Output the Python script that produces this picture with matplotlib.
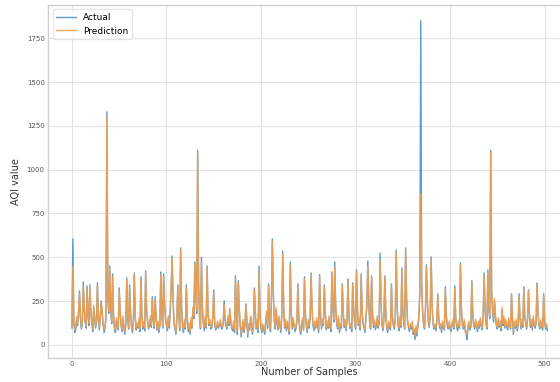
import numpy as np
import matplotlib.pyplot as plt

# AQI readings, actual vs model prediction
actual = [
    95, 605, 130, 70, 85, 140, 110, 180, 308, 150, 90, 120, 359, 200, 130, 95, 336, 160, 110, 342,
    180, 120, 75, 210, 150, 95, 130, 353, 140, 85, 160, 250, 180, 110, 70, 95, 150, 1330, 260, 180,
    450, 210, 120, 405, 160, 90, 70, 140, 105, 85, 325, 180, 110, 75, 150, 95, 60, 120, 382, 140,
    90, 342, 180, 100, 70, 130, 410, 150, 85, 110, 95, 140, 75, 388, 160, 90, 120, 80, 422, 200,
    130, 90, 110, 150, 100, 274, 140, 95, 274, 160, 85, 120, 70, 105, 416, 180, 95, 405, 230, 140,
    110, 80, 150, 95, 200, 340, 507, 250, 120, 90, 60, 140, 342, 170, 80, 553, 210, 95, 70, 130,
    90, 342, 150, 75, 110, 60, 140, 95, 200, 150, 473, 300, 180, 1110, 350, 160, 90, 500, 210, 120,
    80, 150, 95, 450, 180, 110, 130, 90, 100, 150, 314, 120, 85, 100, 120, 95, 110, 130, 100, 90,
    120, 251, 140, 105, 90, 150, 110, 200, 130, 95, 80, 120, 70, 393, 150, 60, 365, 200, 110, 45,
    90, 130, 70, 100, 234, 140, 45, 110, 85, 150, 120, 60, 100, 325, 180, 90, 130, 70, 450, 160,
    95, 70, 110, 85, 60, 130, 180, 95, 348, 150, 75, 240, 604, 300, 140, 90, 200, 120, 85, 150,
    110, 70, 160, 535, 210, 95, 130, 80, 120, 100, 60, 473, 180, 90, 140, 110, 75, 95, 130, 348,
    150, 90, 60, 110, 140, 85, 388, 170, 100, 70, 130, 95, 150, 410, 200, 110, 80, 120, 95, 140,
    105, 70, 400, 160, 90, 130, 110, 342, 180, 85, 120, 95, 150, 100, 75, 416, 200, 130, 473, 220,
    120, 90, 150, 70, 110, 95, 348, 180, 100, 130, 80, 140, 376, 160, 95, 110, 75, 353, 200, 130,
    90, 428, 210, 110, 140, 85, 405, 180, 120, 95, 70, 150, 220, 479, 260, 110, 90, 393, 170, 100,
    130, 85, 110, 150, 95, 120, 524, 230, 110, 80, 140, 393, 180, 95, 70, 120, 100, 85, 348, 160,
    110, 90, 130, 541, 220, 110, 80, 150, 100, 439, 190, 120, 90, 553, 260, 130, 100, 75, 110, 90,
    120, 60, 80, 30, 95, 50, 110, 150, 300, 1850, 350, 180, 110, 90, 200, 456, 250, 130, 100, 160,
    502, 220, 120, 90, 110, 80, 130, 291, 150, 95, 110, 70, 120, 100, 85, 331, 160, 110, 90, 120,
    95, 75, 110, 130, 90, 336, 150, 100, 80, 120, 95, 467, 200, 110, 90, 130, 80, 60, 30, 100,
    120, 85, 100, 365, 170, 110, 90, 130, 100, 75, 120, 95, 140, 110, 85, 150, 410, 200, 120, 90,
    428, 200, 150, 1110, 300, 180, 130, 250, 160, 110, 90, 140, 100, 120, 80, 200, 110, 150, 95, 130,
    100, 85, 140, 110, 90, 291, 150, 60, 120, 95, 130, 80, 110, 291, 150, 90, 130, 100, 331, 160,
    120, 90, 140, 314, 170, 100, 130, 85, 150, 110, 95, 120, 353, 180, 110, 90, 130, 100, 85, 291,
    130, 90, 110, 80,
]

prediction = [
    110, 450, 150, 85, 100, 160, 120, 200, 290, 170, 100, 135, 340, 220, 145, 105, 320, 175, 125, 330,
    195, 130, 90, 225, 165, 105, 145, 340, 150, 95, 175, 240, 195, 120, 85, 110, 165, 1300, 280, 190,
    440, 225, 130, 390, 175, 100, 85, 155, 115, 95, 310, 195, 120, 90, 165, 105, 75, 135, 370, 155,
    100, 330, 195, 110, 85, 145, 400, 165, 95, 125, 105, 155, 90, 375, 175, 100, 135, 95, 410, 215,
    145, 100, 125, 165, 110, 260, 155, 105, 265, 175, 95, 135, 85, 115, 400, 195, 105, 390, 245, 155,
    120, 95, 165, 105, 215, 330, 495, 265, 135, 100, 75, 155, 330, 185, 95, 540, 225, 105, 85, 145,
    100, 330, 165, 90, 125, 75, 155, 105, 215, 165, 460, 315, 195, 1100, 340, 175, 100, 470, 225, 135,
    95, 165, 105, 440, 195, 120, 145, 100, 110, 165, 300, 135, 95, 110, 135, 105, 120, 145, 110, 100,
    130, 230, 155, 115, 100, 165, 120, 210, 145, 105, 95, 135, 85, 380, 165, 75, 355, 215, 120, 60,
    100, 145, 85, 110, 225, 155, 60, 120, 95, 165, 135, 75, 110, 315, 195, 100, 145, 85, 420, 175,
    105, 85, 120, 95, 75, 145, 195, 105, 335, 165, 90, 255, 590, 310, 155, 100, 215, 135, 95, 165,
    120, 85, 175, 520, 225, 105, 145, 95, 135, 110, 75, 455, 195, 100, 155, 120, 90, 105, 145, 335,
    165, 100, 75, 120, 155, 95, 375, 185, 110, 85, 145, 105, 165, 400, 215, 120, 95, 135, 105, 155,
    115, 85, 390, 175, 100, 145, 120, 330, 195, 95, 135, 105, 165, 110, 90, 405, 215, 145, 440, 235,
    130, 100, 165, 85, 120, 105, 340, 195, 110, 145, 95, 155, 365, 175, 105, 120, 90, 345, 215, 145,
    100, 420, 225, 120, 155, 95, 395, 195, 135, 105, 85, 165, 235, 450, 275, 120, 100, 385, 185, 110,
    145, 95, 120, 165, 105, 135, 480, 245, 120, 95, 155, 385, 195, 105, 85, 135, 110, 95, 340, 175,
    120, 100, 145, 530, 235, 120, 95, 165, 110, 430, 205, 135, 100, 545, 275, 145, 110, 90, 120, 100,
    135, 75, 95, 50, 110, 65, 120, 165, 310, 860, 360, 195, 120, 100, 215, 445, 265, 145, 110, 175,
    490, 235, 130, 100, 120, 95, 145, 285, 165, 105, 120, 85, 135, 110, 95, 320, 175, 120, 100, 135,
    105, 90, 120, 145, 100, 320, 165, 110, 95, 135, 105, 455, 215, 120, 100, 145, 95, 75, 55, 110,
    135, 95, 110, 355, 185, 120, 100, 145, 110, 90, 135, 105, 155, 120, 95, 165, 400, 215, 130, 100,
    415, 215, 165, 1100, 310, 195, 145, 265, 175, 120, 100, 155, 110, 135, 95, 215, 120, 165, 105, 145,
    110, 95, 155, 120, 100, 285, 165, 75, 135, 105, 145, 95, 120, 275, 165, 100, 145, 110, 320, 175,
    135, 100, 155, 305, 185, 110, 145, 95, 165, 120, 105, 135, 345, 195, 120, 100, 145, 110, 95, 280,
    145, 100, 120, 95,
]

x = np.arange(len(actual))

fig = plt.figure(figsize=(5.6, 3.82), dpi=100)
# the original screenshot is cropped on the right, so the axes run past the figure edge
ax = fig.add_axes([0.086, 0.063, 0.934, 0.924])

ax.plot(x, actual, color='#4a90c8', lw=1.0, alpha=0.9, label='Actual')
ax.plot(x, prediction, color='#f5a04a', lw=1.0, alpha=0.9, label='Prediction')

ax.set_ylim(-75, 1940)
ax.set_yticks([0, 250, 500, 750, 1000, 1250, 1500, 1750])
ax.set_xticks([0, 100, 200, 300, 400, 500])

ax.grid(True, color='#e3e3e3', lw=0.8)
ax.set_axisbelow(True)
for s in ax.spines.values():
    s.set_color('#d0d0d0')
    s.set_linewidth(1.0)
ax.tick_params(length=0, labelsize=5, labelcolor='#555555', pad=2.5)

ax.set_xlabel('Number of Samples', fontsize=7, color='#333333', labelpad=0)
ax.set_ylabel('AQI value', fontsize=7, color='#333333', labelpad=4)

leg = ax.legend(loc='upper left', fontsize=6.5, frameon=True, handlelength=2.2)
leg.get_frame().set_edgecolor('#e0e0e0')

fig.savefig('out.png', dpi=100)
